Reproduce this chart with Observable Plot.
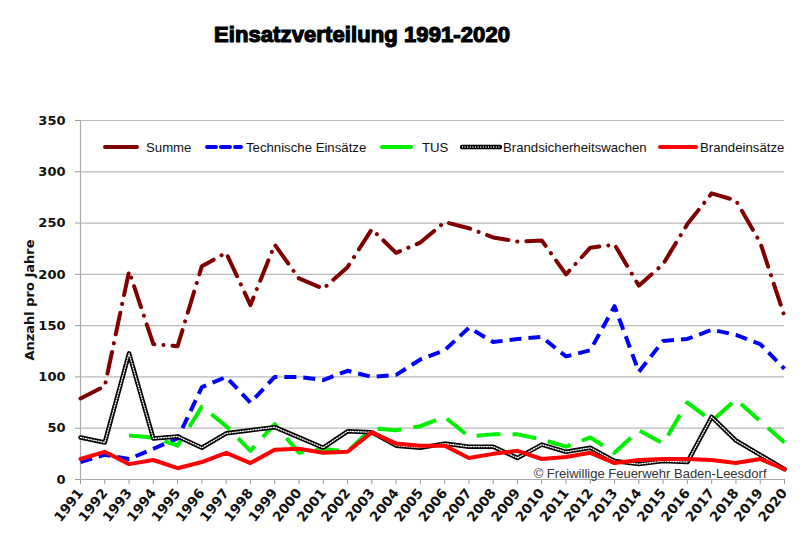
<!DOCTYPE html>
<html>
<head>
<meta charset="utf-8">
<script src="https://cdn.jsdelivr.net/npm/d3@7"></script>
<script src="https://cdn.jsdelivr.net/npm/@observablehq/plot@0.6"></script>
<style>
  html, body { margin: 0; padding: 0; background: #fff; }
  #wrap { position: relative; width: 800px; height: 553px; overflow: hidden; }
  #title { position: absolute; left: 0; top: 0; width: 724px; height: 60px; text-align: center;
    font-family: "Liberation Sans", Arial, sans-serif; font-weight: bold; font-size: 22px;
    line-height: 22px; padding-top: 24px; box-sizing: border-box; color: #000;
    -webkit-text-stroke: 1.2px #000; letter-spacing: 0.1px; }
  #chart { position: absolute; left: 0; top: 60px; }
  #legend { position: absolute; left: 0; top: 137px; width: 800px; height: 20px;
    font-family: "Liberation Sans", Arial, sans-serif; font-size: 13.2px; color: #111; }
  .li { position: absolute; top: 0; height: 20px; display: flex; align-items: center; white-space: nowrap; }
</style>
</head>
<body>
<div id="wrap">
  <div id="title">Einsatzverteilung 1991-2020</div>
  <div id="chart"></div>
  <div id="legend"></div>
</div>
<script>
const years = [1991,1992,1993,1994,1995,1996,1997,1998,1999,2000,2001,2002,2003,2004,2005,2006,2007,2008,2009,2010,2011,2012,2013,2014,2015,2016,2017,2018,2019,2020];
const summe = [79,91,203,132,130,208,221,170,229,196,186,207,244,221,231,251,245,236,232,233,200,226,229,189,210,249,279,272,231,159];
const technische = [17,24,20,30,40,90,100,75,100,100,97,106,100,102,117,126,148,134,137,139,120,126,169,105,135,137,146,141,132,108];
const tus = [null,null,43,41,33,71,52,28,54,26,30,27,50,48,52,61,42,44,44,39,32,41,26,48,35,75,57,78,57,36];
const brandsicherheitswachen = [41,36,123,40,42,31,45,48,51,41,31,47,46,33,31,35,32,32,21,34,27,31,18,15,18,17,61,38,24,10];
const brandeinsaetze = [20,27,15,19,11,17,26,16,29,30,26,27,46,35,33,33,21,25,28,20,22,26,16,19,20,20,19,16,20,10];
const yTicks = [0,50,100,150,200,250,300,350];
const seriesNames = ["Summe","Technische Einsätze","TUS","Brandsicherheitswachen","Brandeinsätze"];
const copyright = "© Freiwillige Feuerwehr Baden-Leesdorf";

const styles = {
  "Summe": {stroke: "#800000", strokeWidth: 4, strokeDasharray: "22,9,0.1,9", strokeLinecap: "round"},
  "Technische Einsätze": {stroke: "#0000ff", strokeWidth: 4, strokeDasharray: "12,7", strokeLinecap: "butt"},
  "TUS": {stroke: "#00ee00", strokeWidth: 4, strokeDasharray: "24,12", strokeLinecap: "butt"},
  "Brandsicherheitswachen": {stroke: "#000000", strokeWidth: 4.5},
  "Brandeinsätze": {stroke: "#ff0000", strokeWidth: 4}
};

function rows(vals) {
  return years.map((y, i) => ({year: y, value: vals[i]}));
}
const data = {
  "Summe": rows(summe),
  "Technische Einsätze": rows(technische),
  "TUS": rows(tus).filter(d => d.value != null),
  "Brandsicherheitswachen": rows(brandsicherheitswachen),
  "Brandeinsätze": rows(brandeinsaetze)
};

const font = {fontFamily: "DejaVu Sans, Verdana, sans-serif", fontWeight: "bold", fontSize: "13px", color: "#111"};

const chart = Plot.plot({
  width: 800,
  height: 493,
  marginLeft: 80,
  marginRight: 16,
  marginTop: 60,
  marginBottom: 74,
  style: font,
  x: {type: "linear", domain: [1991, 2020]},
  y: {domain: [0, 350]},
  marks: [
    Plot.gridY(yTicks, {stroke: "#b8b8b8", strokeOpacity: 1, strokeWidth: 1.2}),
    Plot.axisY(yTicks, {tickSize: 5, tickPadding: 10, stroke: "#999", fontSize: 13, label: "Anzahl pro Jahre", labelAnchor: "center", labelArrow: "none", labelOffset: 56}),
    Plot.axisX(years, {tickSize: 5, tickPadding: 6, tickRotate: -52, fontSize: 13.5, stroke: "#999", tickFormat: d => String(d), label: null}),
    Plot.ruleX([1991], {stroke: "#aaa", strokeWidth: 1.2}),
    Plot.ruleY([0], {stroke: "#aaa", strokeWidth: 1.2}),
    Plot.lineY(data["Summe"], {x: "year", y: "value", ...styles["Summe"]}),
    Plot.lineY(data["Technische Einsätze"], {x: "year", y: "value", ...styles["Technische Einsätze"]}),
    Plot.lineY(data["TUS"], {x: "year", y: "value", ...styles["TUS"]}),
    Plot.lineY(data["Brandsicherheitswachen"], {x: "year", y: "value", ...styles["Brandsicherheitswachen"]}),
    Plot.lineY(data["Brandsicherheitswachen"], {x: "year", y: "value", stroke: "#fff", strokeWidth: 1.3, strokeDasharray: "1,1.6"}),
    Plot.lineY(data["Brandeinsätze"], {x: "year", y: "value", ...styles["Brandeinsätze"]}),
    Plot.text([copyright], {frameAnchor: "bottom-right", dx: -18, dy: -2, fontFamily: "Liberation Sans, Arial, sans-serif", fontWeight: "normal", fontSize: 13, fill: "#333"})
  ]
});
document.getElementById("chart").appendChild(chart);

// legend
const legendPos = {
  "Summe": [103, 36, 7],
  "Technische Einsätze": [204, 40, 2],
  "TUS": [380, 33, 9],
  "Brandsicherheitswachen": [460, 42, 1],
  "Brandeinsätze": [658, 40, 2]
};
const legend = document.getElementById("legend");
seriesNames.forEach(name => {
  const [left, w, gap] = legendPos[name];
  const s = styles[name];
  const item = document.createElement("div");
  item.className = "li";
  item.style.left = left + "px";
  let inner;
  if (name === "Technische Einsätze") {
    inner = `<line x1="3" y1="10" x2="${w - 3}" y2="10" stroke="${s.stroke}" stroke-width="4" stroke-dasharray="9,5" stroke-linecap="round"/>`;
  } else {
    inner = `<line x1="2" y1="10" x2="${w - 2}" y2="10" stroke="${s.stroke}" stroke-width="${s.strokeWidth}" stroke-linecap="round"/>`;
  }
  if (name === "Brandsicherheitswachen") {
    inner += `<line x1="2" y1="10" x2="${w - 2}" y2="10" stroke="#fff" stroke-width="1.3" stroke-dasharray="1,1.6"/>`;
  }
  item.innerHTML = `<svg width="${w}" height="20" style="margin-right:${gap}px">${inner}</svg><span>${name}</span>`;
  legend.appendChild(item);
});
</script>
</body>
</html>
